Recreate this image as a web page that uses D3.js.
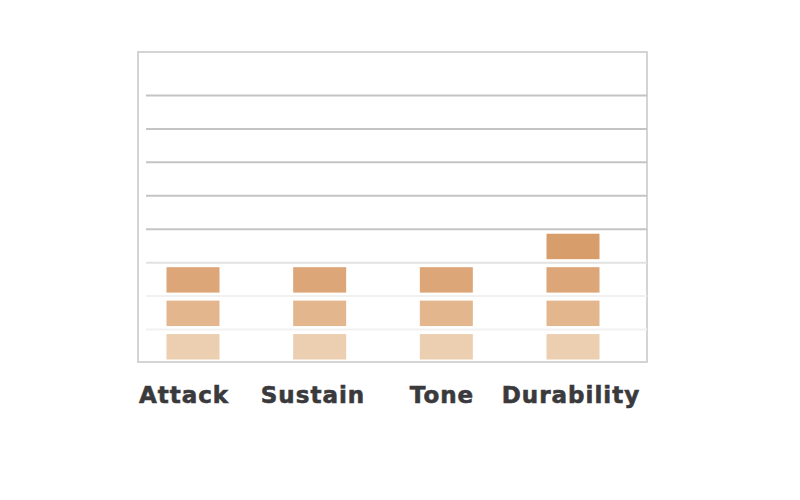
<!DOCTYPE html>
<html>
<head>
<meta charset="utf-8">
<script src="https://cdn.jsdelivr.net/npm/d3@7"></script>
<style>
  html, body { margin: 0; padding: 0; background: #ffffff; }
  svg { display: block; }
</style>
</head>
<body>
<svg id="chart" width="800" height="500"></svg>
<script>
// ---- data ----
const categories = ["Attack", "Sustain", "Tone", "Durability"];
const values = [3, 3, 3, 4];
const gridLevels = [1, 2, 3, 4, 5, 6, 7, 8];
const levelColors = ["#ebcfb0", "#e3b68e", "#dca679", "#d79d6b"];

const svg = d3.select("#chart");
const frame = { left: 138, right: 647, top: 52, bottom: 362 };

const y = d3.scaleLinear().domain([0, 9.3]).range([363, 52]);
const x = d3.scalePoint().domain(categories).range([193, 573]);
const xLabel = d3.scalePoint().domain(categories).range([184, 571]);

// frame
svg.append("rect")
  .attr("x", frame.left).attr("y", frame.top)
  .attr("width", frame.right - frame.left).attr("height", frame.bottom - frame.top)
  .attr("fill", "#ffffff").attr("stroke", "#d4d4d4").attr("stroke-width", 2);

// gridlines
svg.append("g").selectAll("line").data(gridLevels).join("line")
  .attr("x1", 146).attr("x2", frame.right)
  .attr("y1", d => y(d)).attr("y2", d => y(d))
  .attr("stroke", d => d >= 4 ? "#c4c4c4" : (d === 3 ? "#e2e2e2" : "#f1f1f1"))
  .attr("stroke-width", 2);

// stacked blocks
const blockW = 53;
const blocks = [];
categories.forEach((c, i) => {
  for (let k = 1; k <= values[i]; k++) blocks.push({ c, k });
});
svg.append("g").selectAll("rect").data(blocks).join("rect")
  .attr("x", d => x(d.c) - blockW / 2)
  .attr("width", blockW)
  .attr("y", d => y(d.k) + 4.5)
  .attr("height", d => (y(d.k - 1) - 3.5) - (y(d.k) + 4.5))
  .attr("fill", d => levelColors[d.k - 1]);

// labels
svg.append("g").selectAll("text").data(categories).join("text")
  .attr("x", d => xLabel(d))
  .attr("y", 403)
  .attr("text-anchor", "middle")
  .attr("font-family", "'DejaVu Sans', sans-serif")
  .attr("font-weight", "bold")
  .attr("font-size", 23)
  .attr("letter-spacing", 1)
  .attr("fill", "#3a3a3d")
  .attr("stroke", "#3a3a3d")
  .attr("stroke-width", 0.6)
  .text(d => d);
</script>
</body>
</html>
